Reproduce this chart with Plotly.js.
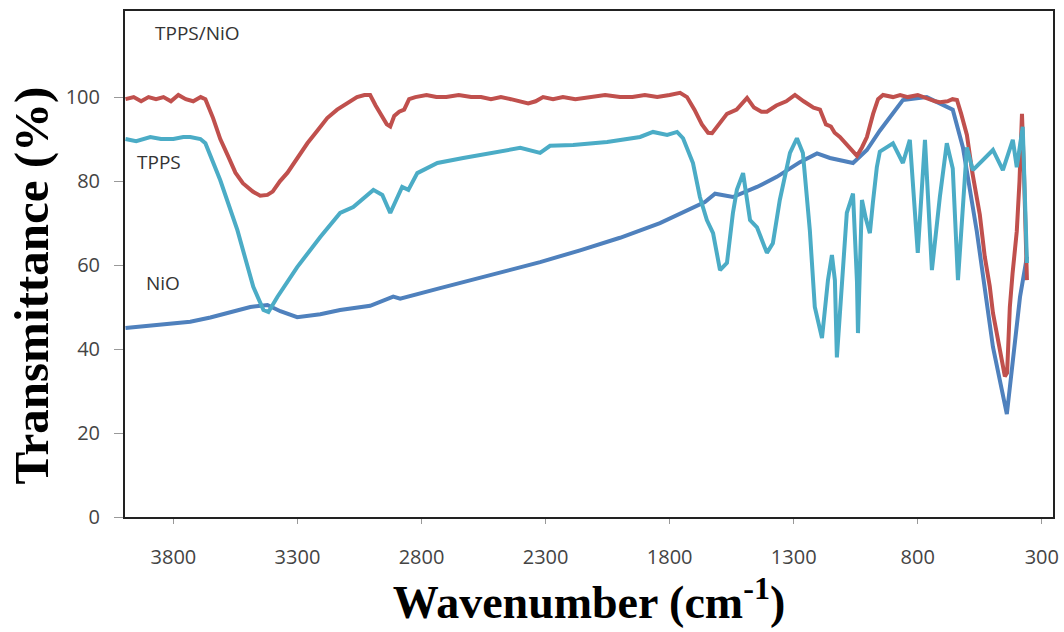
<!DOCTYPE html>
<html>
<head>
<meta charset="utf-8">
<script src="https://cdn.plot.ly/plotly-3.0.1.min.js"></script>
<style>html,body{margin:0;padding:0;background:#fff;}#chart{width:1064px;height:632px;}</style>
</head>
<body>
<div id="chart"></div>
<script>
// NiO (dark blue)
const nioWn = [3993,3893,3800,3732,3651,3558,3490,3421,3369,3301,3208,3128,3007,2914,2886,2725,2564,2402,2322,2161,2000,1839,1706,1658,1617,1545,1448,1368,1275,1206,1154,1061,1005,953,860,764,659,618,562,497,441,417,388,360];
const nioT  = [45,45.5,46,46.5,47.5,49,50,50.5,49,47.6,48.3,49.3,50.3,52.5,52,54.5,57,59.5,60.7,63.5,66.5,70,73.5,75,77,76.2,78.6,81,84.5,86.6,85.5,84.3,87.4,92,99.3,100,97,88,68,40.5,24.5,36.7,52.4,62];

// TPPS/NiO (red)
const tnWn = [3993,3960,3930,3900,3870,3840,3810,3780,3750,3720,3690,3671,3640,3611,3580,3550,3520,3480,3450,3421,3400,3370,3340,3300,3260,3220,3180,3140,3100,3060,3030,3007,2985,2966,2940,2926,2910,2890,2870,2850,2825,2780,2740,2700,2650,2600,2560,2520,2480,2440,2400,2370,2340,2310,2270,2230,2180,2120,2060,2000,1950,1900,1850,1800,1758,1730,1700,1670,1645,1629,1600,1569,1530,1509,1488,1460,1430,1408,1370,1330,1295,1260,1220,1194,1170,1150,1135,1114,1090,1070,1045,1025,1005,980,960,940,900,871,840,800,760,730,711,680,660,642,625,602,580,550,530,510,497,480,469,455,449,440,429,418,401,390,380,372,360];
const tnT  = [99.5,100,99,100,99.5,100,99,100.5,99.5,99,100,99.5,95,90,86,82,79.5,77.5,76.5,76.7,77.5,80,82,85.5,89,92,95,97,98.5,100,100.5,100.5,98,96,93.5,93,95.5,96.5,97,99.5,100,100.5,100,100,100.5,100,100,99.5,100,99.5,99,98.5,99,100,99.5,100,99.5,100,100.5,100,100,100.5,100,100.5,101,100,97,93.5,91.5,91.4,93.5,96,97,98.5,99.8,97.5,96.5,96.5,98,99,100.5,99,97.5,97,93.5,93,91.5,90.5,89,87.5,86,88,90.5,96,99.5,100.5,100,100.5,100,100.5,99.5,99,98.8,99,99.5,99.3,96,91,82,72,62,55,48.6,43,40.5,36,33.5,34.3,50,58,68,80,96,82,56.4];

// TPPS (cyan)
const tpWn = [3993,3950,3893,3850,3800,3760,3732,3691,3671,3611,3542,3478,3437,3417,3381,3301,3208,3128,3075,2994,2958,2926,2878,2853,2817,2736,2632,2495,2402,2322,2282,2189,2052,1919,1867,1810,1770,1746,1706,1678,1650,1625,1597,1569,1545,1529,1504,1476,1448,1408,1384,1356,1315,1287,1263,1235,1215,1186,1162,1146,1134,1126,1102,1086,1061,1045,1041,1025,1009,993,981,965,953,900,860,832,800,771,743,711,683,659,638,602,578,538,497,457,417,401,377,360];
const tpT  = [90,89.5,90.5,90,90,90.5,90.5,90,89,80.2,68.3,54.8,49.3,48.8,52.4,59.5,66.7,72.4,73.8,77.9,76.7,72.4,78.6,77.9,81.9,84.3,85.5,87,87.9,86.7,88.4,88.6,89.3,90.5,91.7,91,91.7,90.2,84.3,76.2,70.7,67.6,58.8,60.5,72.4,77.9,81.9,70.7,69,62.9,65.2,75.5,86.7,90.2,86.7,68.3,50,42.6,56.4,62.4,56.4,38,60.5,72.4,77,56,43.8,75.5,71,67.6,74.8,83.3,87,89,84.3,89.8,62.9,89.8,58.8,76.2,89,83,56.4,88,82.6,85,87.4,82.6,89.8,83.3,92.9,60.5];

const xTicks = [3800,3300,2800,2300,1800,1300,800,300];
const yTicks = [0,20,40,60,80,100];
const seriesNames = ['NiO','TPPS/NiO','TPPS'];

const tickFont = {family:'Open Sans, Liberation Sans, sans-serif', size:20, color:'#444'};
const titleFont = {family:'Liberation Serif, Times New Roman, serif', size:46, color:'#000'};
const yTitleFont = {family:'Liberation Serif, Times New Roman, serif', size:49, color:'#000'};

const traces = [
  {x:nioWn, y:nioT, name:seriesNames[0], type:'scatter', mode:'lines', line:{color:'#4F81BD', width:4}},
  {x:tnWn, y:tnT, name:seriesNames[1], type:'scatter', mode:'lines', line:{color:'#C0504D', width:4}},
  {x:tpWn, y:tpT, name:seriesNames[2], type:'scatter', mode:'lines', line:{color:'#4BACC6', width:4}}
];

const labelFont = {family:'Open Sans, Liberation Sans, sans-serif', size:19, color:'#333'};

const layout = {
  width:1064, height:632,
  margin:{l:125, r:11, t:11, b:115},
  paper_bgcolor:'#fff', plot_bgcolor:'#fff',
  showlegend:false,
  xaxis:{
    range:[3995,255], tickvals:xTicks, ticktext:xTicks.map(String),
    showgrid:false, zeroline:false, showline:true, mirror:true, linecolor:'#222', linewidth:2,
    ticks:'outside', ticklen:5, tickcolor:'#999', tickwidth:1, ticklabelstandoff:16,
    tickfont:tickFont,
    title:{text:'<b>Wavenumber (cm<sup>-1</sup>)</b>', font:titleFont, standoff:14}
  },
  yaxis:{
    range:[0,120.5], tickvals:yTicks, ticktext:yTicks.map(String),
    showgrid:false, zeroline:false, showline:true, mirror:true, linecolor:'#222', linewidth:2,
    ticks:'outside', ticklen:9, tickcolor:'#999', tickwidth:1, ticklabelstandoff:10,
    tickfont:tickFont
  },
  annotations:[
    {xref:'paper', yref:'paper', x:-0.101, y:0.458, xanchor:'center', yanchor:'middle', textangle:-90,
     text:'<b>Transmittance (%)</b>', showarrow:false, font:yTitleFont},
    {xref:'paper', yref:'paper', x:0.030, y:0.957, xanchor:'left', yanchor:'middle', text:seriesNames[1], showarrow:false, font:labelFont},
    {xref:'paper', yref:'paper', x:0.011, y:0.702, xanchor:'left', yanchor:'middle', text:seriesNames[2], showarrow:false, font:labelFont},
    {xref:'paper', yref:'paper', x:0.021, y:0.462, xanchor:'left', yanchor:'middle', text:seriesNames[0], showarrow:false, font:labelFont}
  ]
};

Plotly.newPlot('chart', traces, layout, {staticPlot:true, displayModeBar:false});
</script>
</body>
</html>
